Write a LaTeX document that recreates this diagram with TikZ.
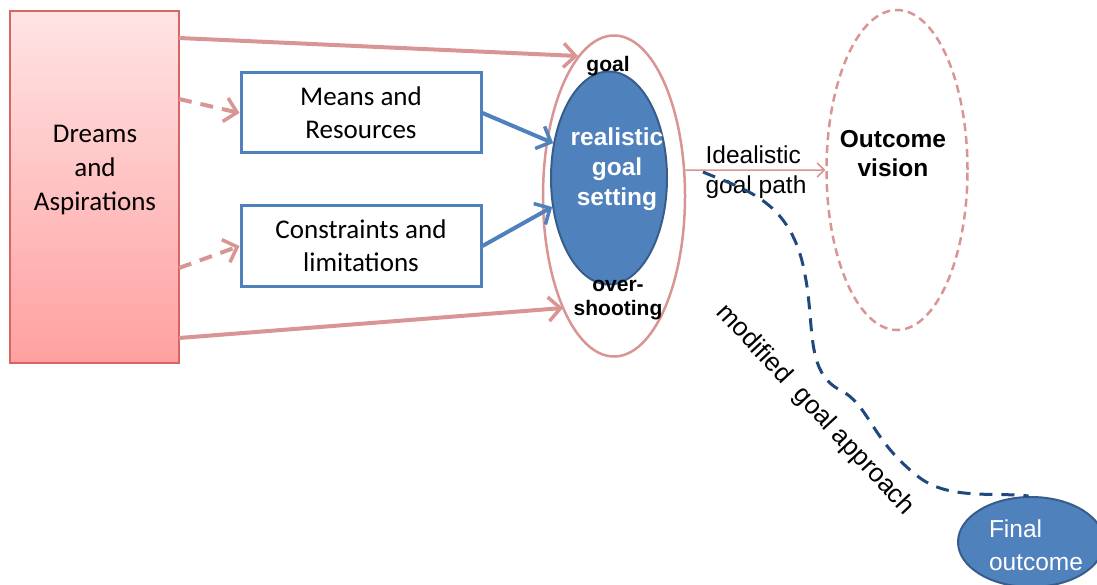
\documentclass[tikz,border=0pt]{standalone}
\usepackage{fontspec}
\setmainfont{Carlito}
\newfontfamily\arial{Liberation Sans}
\usetikzlibrary{shapes.geometric,arrows.meta}
\definecolor{pinkline}{RGB}{217,149,148}
\definecolor{boxblue}{RGB}{79,129,189}
\definecolor{darkblue}{RGB}{31,73,125}
\definecolor{ellborder}{RGB}{56,93,138}
\definecolor{dreamtop}{RGB}{255,228,228}
\definecolor{dreambot}{RGB}{255,160,160}
\definecolor{dreamborder}{RGB}{214,102,102}
\tikzset{
  pinkarrow/.style={draw=pinkline, line width=4pt, -{Straight Barb[length=12pt,width=24pt,line width=3.5pt]}},
  pinkdash/.style={pinkarrow, dash pattern=on 13pt off 9pt},
  bluearrow/.style={draw=boxblue, line width=4pt, -{Straight Barb[length=12pt,width=24pt,line width=3.5pt]}},
  bluebox/.style={draw=boxblue, line width=3pt, fill=white, minimum width=240pt, minimum height=80pt, align=center, inner sep=0pt, font=\fontsize{27}{33}\selectfont},
  ell/.style={ellipse, inner sep=0pt},
  boldlbl/.style={font=\arial\bfseries\fontsize{21}{24}\selectfont, align=center, inner sep=0pt},
}
\begin{document}
\begin{tikzpicture}[x=1pt,y=-1pt]
\useasboundingbox (0,0) rectangle (1097,585);
\clip (0,0) rectangle (1097,585);
% Dreams box
\node[draw=dreamborder, line width=1.5pt, top color=dreamtop, bottom color=dreambot, minimum width=169pt, minimum height=352pt, inner sep=0pt] (dreams) at (94.5,187) {};
\node[font=\fontsize{27}{34}\selectfont, align=center, inner sep=0pt] (dreamstxt) at (95,170) {Dreams\\and\\Aspirations};
% boxes
\node[bluebox] (means) at (361,113) {Means and\\Resources};
\node[bluebox] (constr) at (361,246) {Constraints and\\limitations};
% ellipses
\node[ell, draw=pinkline, line width=2.5pt, minimum width=142pt, minimum height=321pt] (outer) at (614,196) {};
\node[ell, draw=ellborder, line width=2pt, fill=boxblue, minimum width=116pt, minimum height=213pt] (inner) at (609,178) {};
\node[font=\arial\bfseries\fontsize{24.5}{30}\selectfont, text=white, align=center, inner sep=0pt] (realtxt) at (617,169) {realistic\\goal\\setting};
\node[boldlbl] (goallbl) at (608,66) {goal};
\node[boldlbl] (overlbl) at (618,300) {over-\\shooting};
\node[ell, draw=pinkline, line width=2.5pt, dash pattern=on 8pt off 5pt, minimum width=141pt, minimum height=320pt] (vision) at (897,170) {};
\node[font=\arial\bfseries\fontsize{24.5}{29}\selectfont, align=center, inner sep=0pt] (visiontxt) at (893,154) {Outcome\\vision};
\node[ell, draw=ellborder, line width=2pt, fill=boxblue, minimum width=146pt, minimum height=90pt] (final) at (1031,542) {};
\node[font=\arial\fontsize{24.5}{33}\selectfont, text=white, align=left, inner sep=0pt] (finaltxt) at (1036,545) {Final\\outcome};
% connector end points
\coordinate (d1) at (179,38);
\coordinate (d2) at (179,99);
\coordinate (d3) at (179,268);
\coordinate (d4) at (179,338);
\coordinate (e1) at (578,56);
\coordinate (e4) at (563,308);
\coordinate (ps) at (703,172);
% arrows
\draw[pinkarrow] (d1) -- (e1);
\draw[pinkarrow] (d4) -- (e4);
\draw[pinkdash] (d2) -- (means.west);
\draw[pinkdash] (d3) -- (constr.west);
\draw[bluearrow] (means.east) -- (inner.148);
\draw[bluearrow] (constr.east) -- (inner.207);
\draw[draw=pinkline, line width=1.5pt, -{Straight Barb[length=7pt,width=14pt,line width=1.5pt]}] (outer.20) -- (vision.west);
\node[font=\arial\fontsize{24.5}{30}\selectfont, align=left, inner sep=0pt] (ideal) at (756,172) {Idealistic\\goal path};
% modified path
\draw[draw=darkblue, line width=3pt, dash pattern=on 13pt off 9pt]
  (ps) .. controls (745,190) and (792,200) .. (805,275)
       .. controls (815,325) and (805,372) .. (840,390)
       .. controls (870,405) and (870,440) .. (920,478)
       .. controls (950,500) and (995,492) .. (final.93);
\node[font=\arial\fontsize{26}{30}\selectfont, rotate=-47, inner sep=0pt] (modtxt) at (815,410) {modified\ \ goal approach};
\end{tikzpicture}
\end{document}
